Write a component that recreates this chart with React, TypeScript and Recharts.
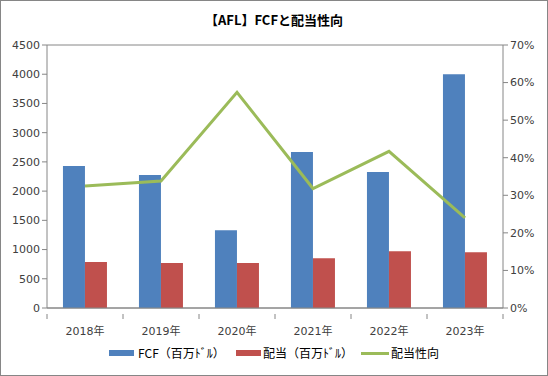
import React from 'react';
import { ComposedChart, Bar, Line, XAxis, YAxis, CartesianGrid } from 'recharts';

const years = ['2018年', '2019年', '2020年', '2021年', '2022年', '2023年'];
const fcf = [2428, 2274, 1332, 2668, 2326, 4000];
const dividend = [788, 771, 771, 852, 972, 955];
const payoutRatio = [0.325, 0.338, 0.574, 0.318, 0.417, 0.24];

const leftTicks = [0, 500, 1000, 1500, 2000, 2500, 3000, 3500, 4000, 4500];
const rightTicks = [0, 0.1, 0.2, 0.3, 0.4, 0.5, 0.6, 0.7];

const data = years.map((year, i) => ({
  year,
  fcf: fcf[i],
  dividend: dividend[i],
  ratio: payoutRatio[i],
}));

const BLUE = '#4F81BD';
const RED = '#C0504D';
const GREEN = '#9BBB59';
const GRID = '#868686';
const FONT = '"DejaVu Sans", "Noto Sans CJK JP", sans-serif';
const tickStyle = { fontSize: 11, fill: '#404040', fontFamily: FONT };

const CHART_W = 548;
const LEFT_W = 47;
const RIGHT_W = 45;
const BAND = (CHART_W - LEFT_W - RIGHT_W) / years.length;

// category label plus the small separator tick on its left (and right for the last one)
const YearTick = (props: any) => {
  const { x, y, payload, index } = props;
  const left = x - BAND / 2;
  const axisY = y - 10;
  return (
    <g>
      <line x1={left} y1={axisY} x2={left} y2={axisY + 5} stroke={GRID} />
      {index === years.length - 1 && (
        <line x1={x + BAND / 2} y1={axisY} x2={x + BAND / 2} y2={axisY + 5} stroke={GRID} />
      )}
      <text x={x} y={y} dy={11} textAnchor="middle" {...tickStyle}>
        {payload.value}
      </text>
    </g>
  );
};

const App: React.FC = () => {
  return (
    <div
      style={{
        position: 'absolute',
        left: 0,
        top: 0,
        width: 548,
        height: 376,
        boxSizing: 'border-box',
        border: '1px solid #868686',
        background: '#fff',
        fontFamily: FONT,
      }}
    >
      <div
        style={{
          position: 'absolute',
          top: 9,
          width: '100%',
          textAlign: 'center',
          fontSize: 13,
          fontWeight: 'bold',
          fontFamily: '"Noto Sans CJK JP", sans-serif',
          color: '#000',
        }}
      >
        【AFL】FCFと配当性向
      </div>
      <div style={{ position: 'absolute', left: -1, top: -1 }}>
        <ComposedChart
          width={CHART_W}
          height={376}
          data={data}
          margin={{ top: 45, right: 0, left: 0, bottom: 38 }}
          barCategoryGap="21%"
          barGap={0}
        >
          <CartesianGrid vertical={false} stroke={GRID} />
          <XAxis
            dataKey="year"
            tickLine={false}
            axisLine={{ stroke: GRID }}
            tick={<YearTick />}
            tickMargin={10}
            interval={0}
            height={30}
          />
          <YAxis
            yAxisId="left"
            domain={[0, 4500]}
            ticks={leftTicks}
            interval={0}
            width={LEFT_W}
            axisLine={{ stroke: GRID }}
            tickLine={{ stroke: GRID }}
            tickSize={5}
            tick={tickStyle}
          />
          <YAxis
            yAxisId="right"
            orientation="right"
            domain={[0, 0.7]}
            ticks={rightTicks}
            interval={0}
            width={RIGHT_W}
            axisLine={{ stroke: GRID }}
            tickLine={{ stroke: GRID }}
            tickSize={5}
            tick={tickStyle}
            tickFormatter={(v: number) => `${Math.round(v * 100)}%`}
          />
          <Bar yAxisId="left" dataKey="fcf" fill={BLUE} isAnimationActive={false} />
          <Bar yAxisId="left" dataKey="dividend" fill={RED} isAnimationActive={false} />
          <Line
            yAxisId="right"
            type="linear"
            dataKey="ratio"
            stroke={GREEN}
            strokeWidth={3}
            dot={false}
            isAnimationActive={false}
          />
        </ComposedChart>
      </div>
      <div
        style={{
          position: 'absolute',
          top: 344,
          left: 0,
          width: '100%',
          fontSize: 12,
          color: '#000',
          fontFamily: '"Noto Sans CJK JP", sans-serif',
        }}
      >
        <div style={{ position: 'absolute', left: 108, top: 5, width: 25, height: 6, background: BLUE }} />
        <div style={{ position: 'absolute', left: 137, top: 0, lineHeight: '16px' }}>FCF（百万ﾄﾞﾙ）</div>
        <div style={{ position: 'absolute', left: 235, top: 5, width: 25, height: 6, background: RED }} />
        <div style={{ position: 'absolute', left: 262, top: 0, lineHeight: '16px' }}>配当（百万ﾄﾞﾙ）</div>
        <div style={{ position: 'absolute', left: 360, top: 7, width: 28, height: 3, background: GREEN }} />
        <div style={{ position: 'absolute', left: 390, top: 0, lineHeight: '16px' }}>配当性向</div>
      </div>
    </div>
  );
};

export default App;
